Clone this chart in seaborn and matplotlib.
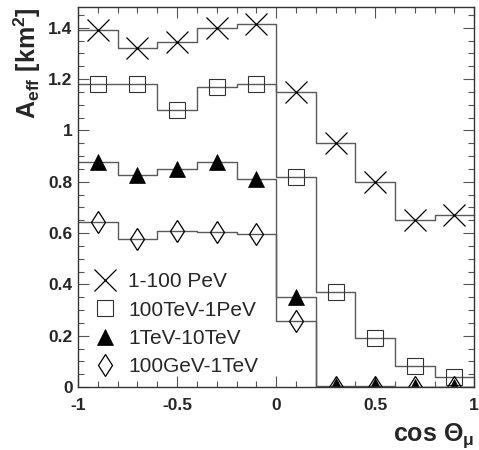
import numpy as np
import seaborn as sns
import matplotlib
matplotlib.use('Agg')
import matplotlib.pyplot as plt
from matplotlib.ticker import MultipleLocator, FuncFormatter

# bins in cos(theta_mu)
bin_edges = [-1.0, -0.8, -0.6, -0.4, -0.2, 0.0, 0.2, 0.4, 0.6, 0.8, 1.0]
bin_centers = [-0.9, -0.7, -0.5, -0.3, -0.1, 0.1, 0.3, 0.5, 0.7, 0.9]

# effective area [km^2] per energy range
a_pev = [1.39, 1.32, 1.345, 1.40, 1.415, 1.15, 0.95, 0.80, 0.65, 0.67]
a_100tev = [1.18, 1.18, 1.08, 1.17, 1.18, 0.82, 0.37, 0.19, 0.08, 0.04]
a_1tev = [0.875, 0.825, 0.85, 0.875, 0.81, 0.35, 0.005, 0.004, 0.001, 0.001]
a_100gev = [0.645, 0.578, 0.608, 0.603, 0.595, 0.257, 0.0, 0.0, 0.0, 0.0]

labels = ['1-100 PeV', '100TeV-1PeV', '1TeV-10TeV', '100GeV-1TeV']

sns.set_theme(style='ticks')
plt.rcParams['font.family'] = ['Liberation Sans', 'DejaVu Sans']
plt.rcParams['mathtext.fontset'] = 'custom'
plt.rcParams['mathtext.rm'] = 'Liberation Sans:bold'
plt.rcParams['mathtext.bf'] = 'Liberation Sans:bold'
plt.rcParams['mathtext.it'] = 'Liberation Sans:bold'
plt.rcParams['mathtext.default'] = 'bf'

fig = plt.figure(figsize=(4.79, 4.5), dpi=100)
ax = fig.add_axes([0.163, 0.14, 0.827, 0.845])

series = [a_pev, a_100tev, a_1tev, a_100gev]
styles = [
    dict(marker='x', ms=16, mew=0.9, mfc='none', mec='black'),
    dict(marker='s', ms=12, mew=0.8, mfc='none', mec='#333333'),
    dict(marker='^', ms=11, mew=0.5, mfc='black', mec='black'),
    dict(marker='d', ms=11.5, mew=0.9, mfc='none', mec='black'),
]

handles = []
for vals, st, lab in zip(series, styles, labels):
    sns.histplot(x=bin_centers, weights=vals, bins=bin_edges, element='step',
                 fill=False, color='#5a5a5a', linewidth=1.0, ax=ax)
    h, = ax.plot(bin_centers, vals, linestyle='none', label=lab, **st)
    handles.append(h)

ax.set_xlim(-1, 1)
ax.set_ylim(0, 1.482)

ax.xaxis.set_major_locator(MultipleLocator(0.5))
ax.xaxis.set_minor_locator(MultipleLocator(0.1))
ax.yaxis.set_major_locator(MultipleLocator(0.2))
ax.yaxis.set_minor_locator(MultipleLocator(0.05))
fmt = FuncFormatter(lambda v, p: '%g' % round(v, 2))
ax.xaxis.set_major_formatter(fmt)
ax.yaxis.set_major_formatter(fmt)

ax.tick_params(which='both', direction='in', top=True, right=True,
               color='#555555', labelsize=12.5)
ax.tick_params(axis='x', pad=8)
ax.tick_params(axis='y', pad=4)
ax.tick_params(which='major', length=8, width=0.8)
ax.tick_params(which='minor', length=4, width=0.8)
for lab in ax.get_xticklabels() + ax.get_yticklabels():
    lab.set_fontweight('bold')
for sp in ax.spines.values():
    sp.set_color('#333333')
    sp.set_linewidth(1.0)

ax.set_ylabel(r'$A_{eff}\ [km^2]$', fontsize=18, loc='top', labelpad=4)
ax.set_xlabel(r'cos $\Theta_{\mu}$', fontsize=18, fontweight='bold',
              loc='right', labelpad=6)

ax.legend(handles=handles, loc='upper left', bbox_to_anchor=(0.0, 0.34),
          frameon=False, fontsize=15, handlelength=1.2, handletextpad=0.5,
          labelspacing=0.45, borderaxespad=0.3)

plt.savefig('out.png', dpi=100)
